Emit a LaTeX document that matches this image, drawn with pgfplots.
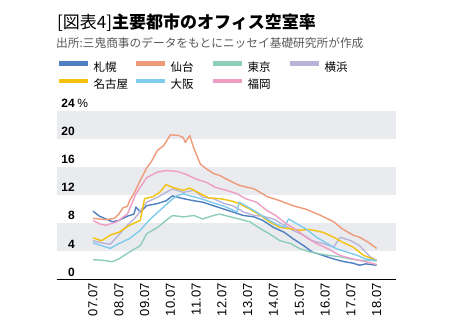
\documentclass[border=0pt]{standalone}
\usepackage{fontspec}
\setmainfont{Liberation Sans}
\newfontfamily\jp{Noto Sans CJK JP}
\usepackage{pgfplots}
\pgfplotsset{compat=1.18}
\definecolor{cSap}{HTML}{4F7FC0}
\definecolor{cSen}{HTML}{EE9A78}
\definecolor{cTok}{HTML}{8DCDBB}
\definecolor{cYok}{HTML}{B9B3D9}
\definecolor{cNag}{HTML}{F4C20D}
\definecolor{cOsa}{HTML}{7FCBEE}
\definecolor{cFuk}{HTML}{EE9EC4}
\definecolor{band}{HTML}{E9EBEE}
\definecolor{subgray}{HTML}{595959}
\begin{document}
\begin{tikzpicture}
\path[use as bounding box] (0,0) rectangle (457pt,329pt);
\node[anchor=base west, inner sep=0pt, font=\fontsize{17}{20}\selectfont] at (57pt,300pt) {\jp [図表4]\bfseries 主要都市のオフィス空室率};
\node[anchor=base west, inner sep=0pt, text=subgray, font=\fontsize{11.7}{13}\selectfont] at (56pt,281pt) {\jp 出所:三鬼商事のデータをもとにニッセイ基礎研究所が作成};
\begin{axis}[
  at={(56.7pt,49.7pt)}, anchor=south west, scale only axis,
  width=339.3pt, height=168.3pt,
  xmin=-16.9, xmax=141, ymin=0, ymax=24,
  clip=false,
  axis x line=bottom, axis y line=none,
  x axis line style={-, black, line width=0.9pt},
  ytick=\empty,
  xtick={0,12,24,36,48,60,72,84,96,108,120,132},
  xticklabels={07.07,08.07,09.07,10.07,11.07,12.07,13.07,14.07,15.07,16.07,17.07,18.07},
  major tick length=0pt,
  xticklabel style={rotate=90, anchor=east, inner sep=0pt, font=\fontsize{13}{15}\selectfont},
  xticklabel shift=4pt,
  every axis plot/.append style={line width=1.4pt, line join=round, mark=none},
  legend columns=4,
  legend cell align=left,
  legend image code/.code={\draw[#1, line width=4.5pt] (0pt,4.3pt) -- (29pt,4.3pt);},
  legend style={at={(0.001,1.297)}, anchor=north west, draw=none, fill=none,
    inner sep=0pt, outer sep=0pt, row sep=5.7pt,
    font=\jp\fontsize{11.5}{13}\selectfont,
    nodes={inner sep=0pt, text width=40.5pt, text height=9pt, text depth=2pt},
    /tikz/every odd column/.append style={column sep=3pt},
    /tikz/every even column/.append style={column sep=0pt}},
]
\fill[band] (axis cs:-16.9,20) rectangle (axis cs:141,24);
\fill[band] (axis cs:-16.9,12) rectangle (axis cs:141,16);
\fill[band] (axis cs:-16.9,4) rectangle (axis cs:141,8);
% Sapporo
\addplot[cSap] coordinates {(0,9.7) (3,9.0) (6,8.6) (9,8.2) (12,8.4) (16,9.0) (19,9.3) (20,10.3) (22,9.6) (25,10.5) (30,10.8) (34,11.2) (37,11.9) (42,11.5) (47,11.2) (51,11.0) (56,10.5) (61,10.0) (65,9.6) (70,9.1) (75,8.9) (79,8.4) (84,7.4) (89,6.7) (93,5.8) (98,4.8) (102,3.9) (107,3.4) (112,2.9) (117,2.5) (121,2.3) (124,2.0) (127,2.2) (132,2.0)};
\addlegendentry{札幌}
% Sendai
\addplot[cSen] coordinates {(0,8.7) (6,8.5) (10,8.7) (12,9.3) (14,10.2) (16,10.4) (17,11.2) (19,12.2) (22,14.1) (25,15.9) (27,16.7) (30,18.4) (33,19.1) (36,20.6) (40,20.5) (42,20.2) (43,19.5) (45,20.5) (47,18.6) (50,16.4) (53,15.7) (56,15.1) (59,14.8) (62,14.3) (68,13.4) (75,12.9) (81,11.8) (87,11.2) (93,10.5) (99,10.0) (106,9.1) (112,8.2) (116,7.2) (121,6.3) (124,6.0) (128,5.3) (132,4.4)};
\addlegendentry{仙台}
% Tokyo
\addplot[cTok] coordinates {(0,2.8) (5,2.7) (9,2.5) (12,2.9) (17,3.9) (22,4.8) (25,6.5) (30,7.4) (34,8.4) (37,9.1) (42,8.9) (47,9.1) (51,8.6) (56,9.1) (59,9.3) (64,8.9) (68,8.6) (73,8.2) (78,7.2) (82,6.5) (87,5.5) (92,5.1) (96,4.4) (101,3.9) (106,3.6) (110,3.4) (115,3.2) (120,2.9) (124,2.7) (129,2.7) (132,2.6)};
\addlegendentry{東京}
% Yokohama
\addplot[cYok] coordinates {(0,5.5) (4,5.2) (8,5.0) (11,6.0) (16,7.7) (20,8.9) (25,11.0) (30,11.7) (34,12.4) (37,12.9) (42,12.4) (47,12.7) (51,11.7) (56,11.5) (61,10.8) (65,10.5) (70,9.6) (75,9.1) (79,9.0) (84,8.6) (89,7.7) (93,7.0) (98,6.3) (102,5.5) (107,5.1) (112,4.6) (115,6.0) (120,5.5) (124,4.8) (129,3.2) (132,2.7)};
\addlegendentry{横浜}
% Nagoya
\addplot[cNag] coordinates {(0,5.9) (4,5.5) (8,6.3) (12,6.7) (17,7.7) (22,8.4) (24,11.5) (28,11.8) (31,12.4) (34,13.5) (37,13.1) (42,12.7) (45,13.0) (50,12.2) (54,11.6) (59,11.5) (64,11.2) (68,10.8) (73,10.0) (78,9.1) (82,8.2) (87,7.4) (92,7.2) (96,7.0) (101,7.1) (107,6.7) (112,6.0) (116,5.3) (121,4.6) (126,3.4) (132,2.7)};
\addlegendentry{名古屋}
% Osaka
\addplot[cOsa] coordinates {(0,5.2) (5,4.7) (8,4.4) (12,5.1) (17,5.8) (22,7.0) (26,8.4) (31,9.8) (36,11.2) (39,11.9) (42,12.2) (45,11.9) (48,11.7) (53,11.2) (57,10.8) (62,10.3) (67,9.6) (68,11.0) (71,10.5) (76,9.6) (81,8.6) (85,7.9) (89,7.4) (91,8.6) (95,7.9) (99,7.2) (104,6.0) (109,5.1) (113,4.4) (118,3.9) (123,3.4) (127,2.9) (132,2.7)};
\addlegendentry{大阪}
% Fukuoka
\addplot[cFuk] coordinates {(0,8.4) (3,7.9) (6,7.7) (11,8.2) (16,9.3) (20,12.2) (25,14.5) (30,15.3) (34,15.5) (39,15.4) (43,15.0) (48,14.3) (53,13.8) (57,13.1) (62,12.7) (67,12.2) (71,11.5) (76,11.0) (81,9.8) (85,9.1) (90,7.9) (95,7.0) (99,6.0) (104,5.1) (109,4.4) (115,3.4) (121,2.9) (127,2.5) (132,2.1)};
\addlegendentry{福岡}
% y labels
\node[anchor=base east, inner sep=0pt, xshift=18.3pt, yshift=3.2pt, font=\bfseries\fontsize{12}{14}\selectfont] at (axis cs:-16.9,24) {24};
\node[anchor=base west, inner sep=0pt, xshift=20.5pt, yshift=3.2pt, font=\fontsize{12}{14}\selectfont] at (axis cs:-16.9,24) {\%};
\node[anchor=base east, inner sep=0pt, xshift=18.3pt, yshift=3.2pt, font=\bfseries\fontsize{12}{14}\selectfont] at (axis cs:-16.9,20) {20};
\node[anchor=base east, inner sep=0pt, xshift=18.3pt, yshift=3.2pt, font=\bfseries\fontsize{12}{14}\selectfont] at (axis cs:-16.9,16) {16};
\node[anchor=base east, inner sep=0pt, xshift=18.3pt, yshift=3.2pt, font=\bfseries\fontsize{12}{14}\selectfont] at (axis cs:-16.9,12) {12};
\node[anchor=base east, inner sep=0pt, xshift=18.3pt, yshift=3.2pt, font=\bfseries\fontsize{12}{14}\selectfont] at (axis cs:-16.9,8) {8};
\node[anchor=base east, inner sep=0pt, xshift=18.3pt, yshift=3.2pt, font=\bfseries\fontsize{12}{14}\selectfont] at (axis cs:-16.9,4) {4};
\node[anchor=base east, inner sep=0pt, xshift=18.3pt, yshift=3.2pt, font=\bfseries\fontsize{12}{14}\selectfont] at (axis cs:-16.9,0) {0};
\end{axis}
\end{tikzpicture}
\end{document}
